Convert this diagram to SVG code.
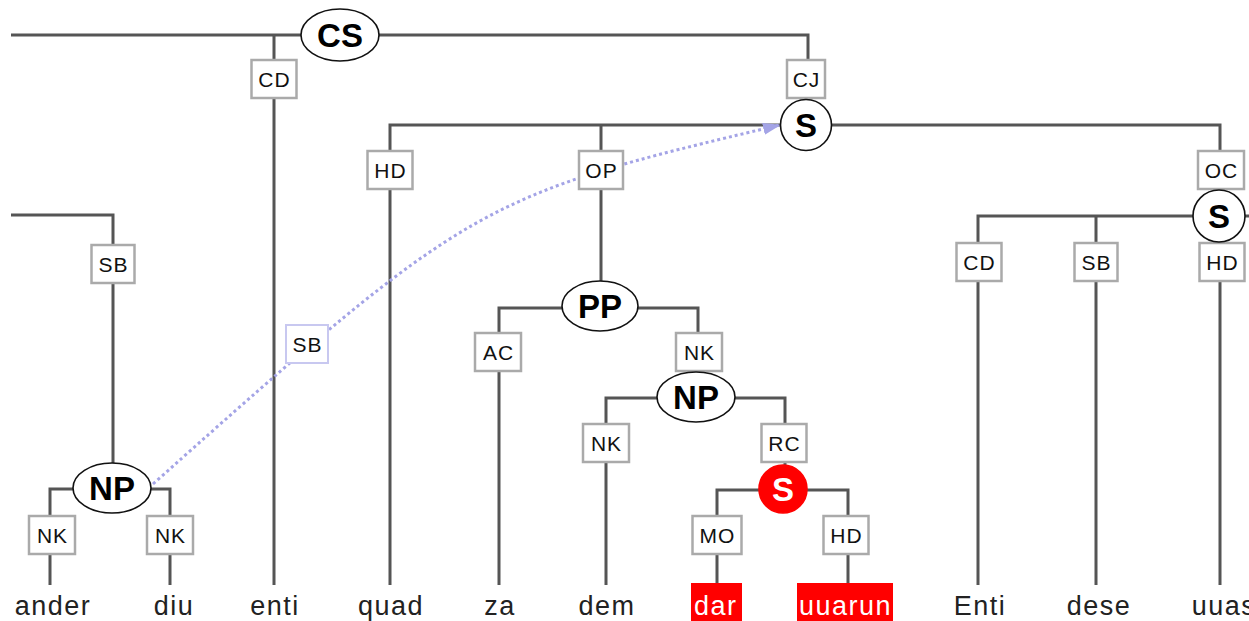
<svg xmlns="http://www.w3.org/2000/svg" width="1249" height="621" viewBox="0 0 1249 621">
  <defs>
    <style>
      .edge { stroke: #555; stroke-width: 3; fill: none; }
      .lbl rect { fill: #fff; stroke: #aaa; stroke-width: 2.5; }
      .lbl text { font-family: "Liberation Sans", Arial, sans-serif; font-size: 21px; letter-spacing: 1px; text-anchor: middle; fill: #111; }
      .sec rect { fill: #fff; stroke: #c8c8f0; stroke-width: 2; }
      .cat ellipse, .cat circle { fill: #fff; stroke: #111; stroke-width: 1.6; }
      .cat text { font-family: "Liberation Sans", Arial, sans-serif; font-size: 33px; font-weight: bold; text-anchor: middle; fill: #000; }
      .hl circle { fill: #f00; stroke: #f00; }
      .hl text { fill: #fff; }
      .word { font-family: "Liberation Sans", Arial, sans-serif; font-size: 27px; letter-spacing: 1.5px; text-anchor: middle; fill: #222; }
      .word.red { fill: #fff; text-anchor: start; }
      .secedge { stroke: #a4a4e6; stroke-width: 3; stroke-dasharray: 3 3; fill: none; }
    </style>
    <marker id="secArrow" markerWidth="18" markerHeight="14" refX="17" refY="7" orient="auto" markerUnits="userSpaceOnUse">
      <path d="M0,1 L18,7 L0,13 Z" fill="#a4a4e6"/>
    </marker>
    <clipPath id="clipDar"><rect x="691" y="583" width="51" height="38"/></clipPath>
    <clipPath id="clipUuarun"><rect x="797" y="583" width="96" height="38"/></clipPath>
  </defs>

  <rect width="1249" height="621" fill="#fff"/>

  <!-- tree edges -->
  <g id="edges">
    <!-- CS -->
    <path class="edge" d="M11,35 H808 V100"/>
    <path class="edge" d="M274,35 V585"/>
    <!-- upper left NP branch -->
    <path class="edge" d="M11,215 H113 V463"/>
    <!-- NP (ander diu) -->
    <path class="edge" d="M50,585 V489 H170 V585"/>
    <!-- S (quad ...) -->
    <path class="edge" d="M390,585 V125 H1220 V190"/>
    <path class="edge" d="M601,125 V281"/>
    <!-- S (Enti dese uuas) -->
    <path class="edge" d="M978,585 V216 H1249"/>
    <path class="edge" d="M1096,216 V585"/>
    <path class="edge" d="M1220,216 V585"/>
    <!-- PP -->
    <path class="edge" d="M499,585 V308 H698 V372"/>
    <!-- NP (dem ...) -->
    <path class="edge" d="M606,585 V398 H785 V465"/>
    <!-- relative clause S -->
    <path class="edge" d="M717,583 V490 H848 V583"/>
    <!-- secondary edge NP -> S -->
    <path class="secedge" d="M153,484 C470,201 480,196 780,125" marker-end="url(#secArrow)"/>
  </g>

  <!-- edge labels -->
  <g id="edge-labels">
    <g class="lbl" id="l-cd1"><rect x="251.5" y="60" width="45" height="38"/><text x="274.5" y="86.5">CD</text></g>
    <g class="lbl" id="l-cj"><rect x="787" y="60" width="38" height="38"/><text x="806.5" y="86.5">CJ</text></g>
    <g class="lbl" id="l-hd1"><rect x="367.5" y="151" width="45" height="38"/><text x="390.5" y="177.5">HD</text></g>
    <g class="lbl" id="l-op"><rect x="579" y="151" width="44" height="38"/><text x="601.5" y="177.5">OP</text></g>
    <g class="lbl" id="l-oc"><rect x="1198" y="151" width="46" height="38"/><text x="1221.5" y="177.5">OC</text></g>
    <g class="lbl" id="l-sb1"><rect x="91.5" y="245" width="43" height="38"/><text x="113.5" y="271.5">SB</text></g>
    <g class="lbl" id="l-cd2"><rect x="956.5" y="243" width="45" height="38"/><text x="979.5" y="269.5">CD</text></g>
    <g class="lbl" id="l-sb2"><rect x="1074.5" y="243" width="43" height="38"/><text x="1096.5" y="269.5">SB</text></g>
    <g class="lbl" id="l-hd2"><rect x="1199.5" y="243" width="45" height="38"/><text x="1222.5" y="269.5">HD</text></g>
    <g class="lbl sec" id="l-sb-sec"><rect x="286" y="325" width="42" height="38"/><text x="307.5" y="351.5">SB</text></g>
    <g class="lbl" id="l-ac"><rect x="475" y="333" width="46" height="38"/><text x="498.5" y="359.5">AC</text></g>
    <g class="lbl" id="l-nk1"><rect x="676" y="333" width="46" height="38"/><text x="699.5" y="359.5">NK</text></g>
    <g class="lbl" id="l-nk2"><rect x="583" y="424" width="46" height="38"/><text x="606.5" y="450.5">NK</text></g>
    <g class="lbl" id="l-rc"><rect x="761.5" y="424" width="45" height="38"/><text x="784.5" y="450.5">RC</text></g>
    <g class="lbl" id="l-nk3"><rect x="29" y="516" width="46" height="38"/><text x="52.5" y="542.5">NK</text></g>
    <g class="lbl" id="l-nk4"><rect x="147" y="516" width="46" height="38"/><text x="170.5" y="542.5">NK</text></g>
    <g class="lbl" id="l-mo"><rect x="692.5" y="516" width="49" height="38"/><text x="717.5" y="542.5">MO</text></g>
    <g class="lbl" id="l-hd3"><rect x="823.5" y="516" width="45" height="38"/><text x="846.5" y="542.5">HD</text></g>
  </g>

  <!-- category nodes -->
  <g class="cat" id="n-cs"><ellipse cx="340" cy="35" rx="39" ry="26"/><text x="340" y="47">CS</text></g>
  <g class="cat" id="n-s1"><circle cx="806" cy="125" r="25.5"/><text x="806" y="137">S</text></g>
  <g class="cat" id="n-s2"><circle cx="1219" cy="216" r="26"/><text x="1219" y="228">S</text></g>
  <g class="cat" id="n-np1"><ellipse cx="112" cy="488" rx="39" ry="25"/><text x="112" y="500">NP</text></g>
  <g class="cat" id="n-pp"><ellipse cx="600" cy="306" rx="38" ry="25"/><text x="600" y="318">PP</text></g>
  <g class="cat" id="n-np2"><ellipse cx="696" cy="397" rx="39" ry="25"/><text x="696" y="409">NP</text></g>
  <g class="cat hl" id="n-s3"><circle cx="783" cy="489" r="24"/><text x="783" y="501">S</text></g>

  <!-- terminals -->
  <g id="words">
    <text class="word" x="53" y="615">ander</text>
    <text class="word" x="174" y="615">diu</text>
    <text class="word" x="275" y="615">enti</text>
    <text class="word" x="391" y="615">quad</text>
    <text class="word" x="500" y="615">za</text>
    <text class="word" x="607" y="615">dem</text>
    <g id="w-dar">
      <rect x="691" y="583" width="51" height="38" fill="#f00"/>
      <text class="word red" x="694" y="615" clip-path="url(#clipDar)">dar</text>
    </g>
    <g id="w-uuarun">
      <rect x="797" y="583" width="96" height="38" fill="#f00"/>
      <text class="word red" x="799" y="615" clip-path="url(#clipUuarun)">uuarun</text>
    </g>
    <text class="word" x="980" y="615">Enti</text>
    <text class="word" x="1099" y="615">dese</text>
    <text class="word" x="1224" y="615">uuas</text>
  </g>
</svg>
